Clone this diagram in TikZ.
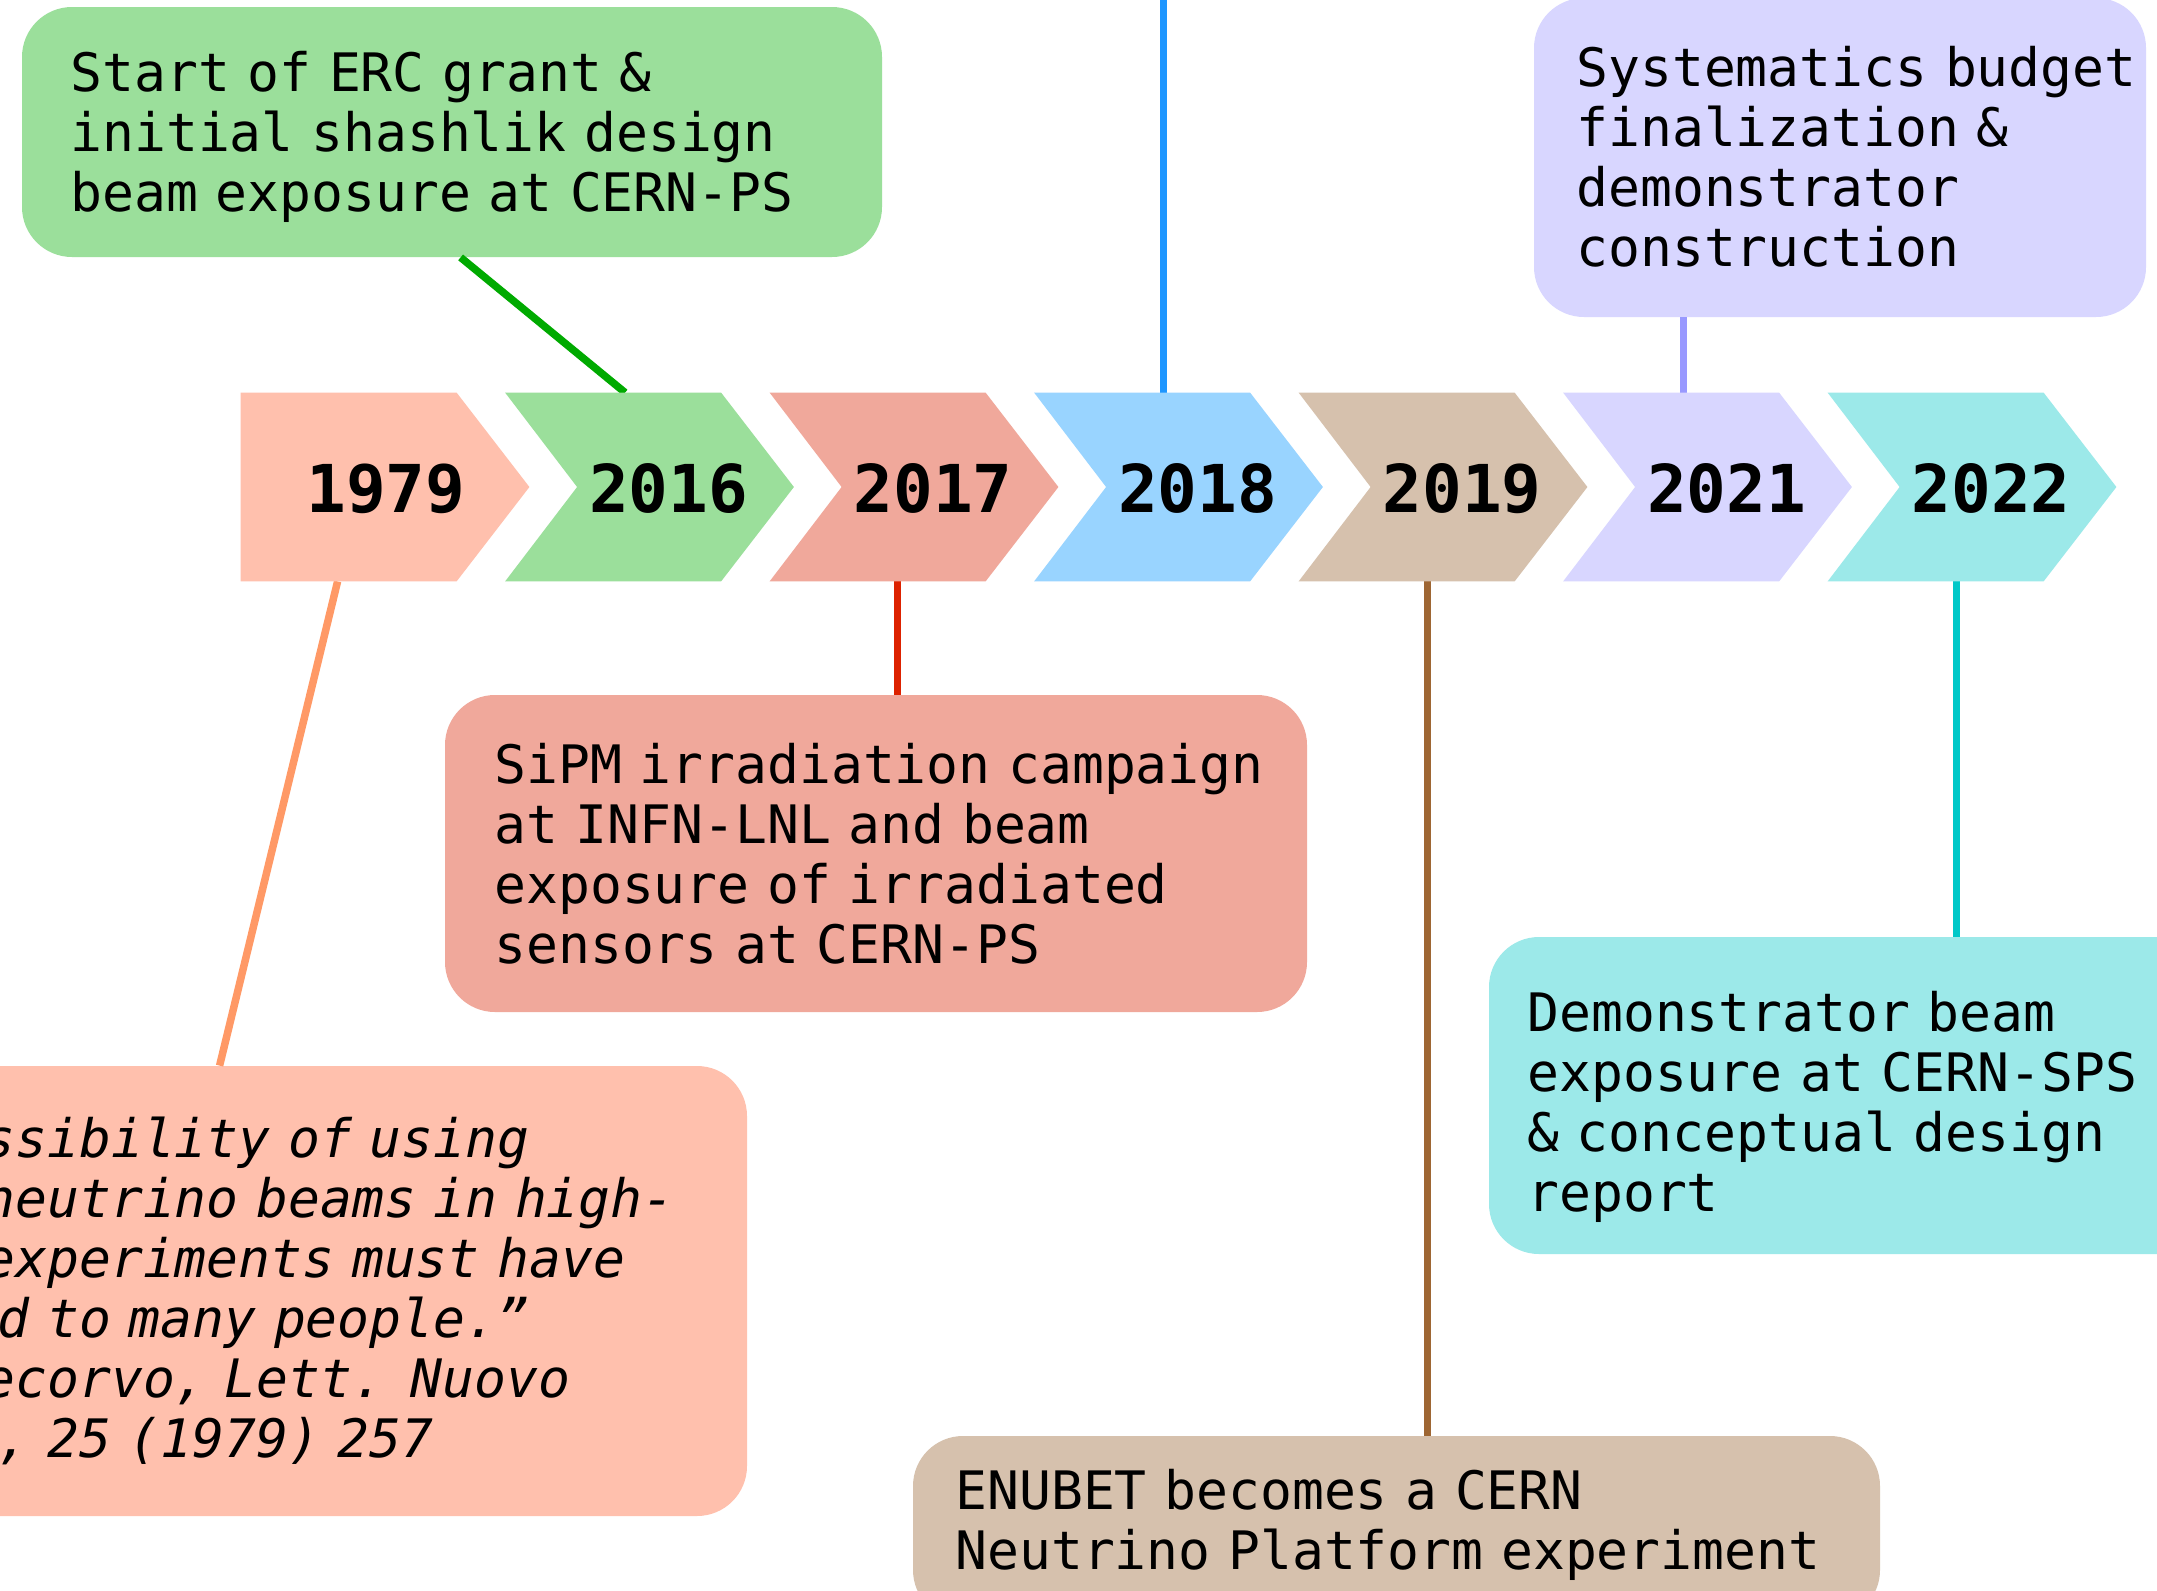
\documentclass[tikz,border=0pt]{standalone}
\usepackage{fontspec}
\IfFontExistsTF{DejaVuSansMono.ttf}{%
  \newfontfamily\dvmono{DejaVuSansMono}[Extension=.ttf, UprightFont=*, BoldFont=*-Bold, ItalicFont=*-Oblique, BoldItalicFont=*-BoldOblique]}{%
  \newfontfamily\dvmono{Liberation Mono}}
\usetikzlibrary{calc}
\definecolor{f79}{HTML}{FFC0AD}\definecolor{l79}{HTML}{FF9966}
\definecolor{f16}{HTML}{9BDF9B}\definecolor{l16}{HTML}{00AA00}
\definecolor{f17}{HTML}{F0A89B}\definecolor{l17}{HTML}{DD2200}
\definecolor{f18}{HTML}{99D4FF}\definecolor{l18}{HTML}{1E96FF}
\definecolor{f19}{HTML}{D6C1AD}\definecolor{l19}{HTML}{9E6633}
\definecolor{f21}{HTML}{D8D6FF}\definecolor{l21}{HTML}{9999FF}
\definecolor{f22}{HTML}{9CE9E9}\definecolor{l22}{HTML}{00C8C8}
\begin{document}
\begin{tikzpicture}[x=0.5pt,y=-0.5pt,
  evbox/.style={rectangle, rounded corners=25pt, draw=none, inner sep=0pt},
  evtext/.style={anchor=base west, inner sep=0pt, text width=600pt, align=left,
    font=\dvmono\fontsize{26.5pt}{30pt}\selectfont},
  yeartext/.style={anchor=base, inner sep=0pt, font=\dvmono\bfseries\fontsize{33pt}{36pt}\selectfont},
  chev/.style={rectangle, inner sep=0pt, minimum width=144pt, minimum height=94pt},
  link/.style={line width=3.75pt}
]
\useasboundingbox (0,0) rectangle (2157,1590);
\clip (0,0) rectangle (2157,1590);
\fill[white] (0,0) rectangle (2157,1590);

% chevron frames (invisible nodes)
\node[chev] (c1979) at (385,487) {};
\node[chev] (c2016) at (649.5,487) {};
\node[chev] (c2017) at (914,487) {};
\node[chev] (c2018) at (1178.5,487) {};
\node[chev] (c2019) at (1443,487) {};
\node[chev] (c2021) at (1707.5,487) {};
\node[chev] (c2022) at (1972,487) {};

% event boxes
\node[evbox, fill=f16, minimum width=430pt, minimum height=125pt] (gbox) at (452,132) {};
\node[evbox, fill=f21, minimum width=306pt, minimum height=159.5pt] (pbox) at (1840,157.5) {};
\node[evbox, fill=f17, minimum width=431pt, minimum height=158.5pt] (rbox) at (876,853.5) {};
\node[evbox, fill=f79, minimum width=513.5pt, minimum height=225pt] (obox) at (233.5,1291) {};
\node[evbox, fill=f19, minimum width=483.5pt, minimum height=92pt] (bbox) at (1396.5,1528) {};
\node[evbox, fill=f22, minimum width=370.5pt, minimum height=158.5pt] (cbox) at (1859.5,1095.5) {};

% connectors
\coordinate (btop) at (1164,-10);
\draw[link, l79] ($(c1979.south west)+(97,0)$) -- ($(obox.north west)+(500,0)$);
\draw[link, l16] ($(gbox.south west)+(439,0)$) -- ($(c2016.north west)+(120,0)$);
\draw[link, l17] ($(c2017.south west)+(128,0)$) coordinate (r1) -- (r1 |- rbox.north);
\draw[link, l18] ($(c2018.north west)+(129.5,0)$) coordinate (b1) -- (b1 |- btop);
\draw[link, l19] ($(c2019.south west)+(129,0)$) coordinate (w1) -- (w1 |- bbox.north);
\draw[link, l21] ($(c2021.north west)+(120.5,0)$) coordinate (p1) -- (p1 |- pbox.south);
\draw[link, l22] ($(c2022.south west)+(129,0)$) coordinate (k1) -- (k1 |- cbox.north);

% chevron shapes
\fill[f79] (c1979.north west) -- ($(c1979.north west)+(216,0)$) -- (c1979.east)
  -- ($(c1979.south west)+(216,0)$) -- (c1979.south west) -- cycle;
\foreach \yr/\col in {2016/f16,2017/f17,2018/f18,2019/f19,2021/f21,2022/f22}{
  \fill[\col] (c\yr.north west) -- ($(c\yr.north west)+(216,0)$) -- (c\yr.east)
    -- ($(c\yr.south west)+(216,0)$) -- (c\yr.south west) -- ($(c\yr.west)+(72,0)$) -- cycle;
}

% year labels
\node[yeartext] (t1979) at (386,512) {1979};
\node[yeartext] (t2016) at (668.5,512) {2016};
\node[yeartext] (t2017) at (933,512) {2017};
\node[yeartext] (t2018) at (1197.5,512) {2018};
\node[yeartext] (t2019) at (1462,512) {2019};
\node[yeartext] (t2021) at (1726.5,512) {2021};
\node[yeartext] (t2022) at (1991,512) {2022};

% event texts
\node[evtext] (gtext) at (70,91) {Start of ERC grant \&\\initial shashlik design\\beam exposure at CERN-PS};
\node[evtext] (ptext) at (1576,86) {Systematics budget\\finalization \&\\demonstrator\\construction};
\node[evtext] (rtext) at (494,783) {SiPM irradiation campaign\\at INFN-LNL and beam\\exposure of irradiated\\sensors at CERN-PS};
\node[evtext, font=\dvmono\itshape\fontsize{26.5pt}{30pt}\selectfont] (otext) at (-226,1157)
  {“The possibility of using\\tagged neutrino beams in high-\\energy experiments must have\\occurred to many people.”\\B. Pontecorvo, Lett. Nuovo\\Cimento, 25 (1979) 257};
\node[evtext] (btext) at (955,1509) {ENUBET becomes a CERN\\Neutrino Platform experiment};
\node[evtext] (ctext) at (1527,1031) {Demonstrator beam\\exposure at CERN-SPS\\\& conceptual design\\report};
\end{tikzpicture}
\end{document}
